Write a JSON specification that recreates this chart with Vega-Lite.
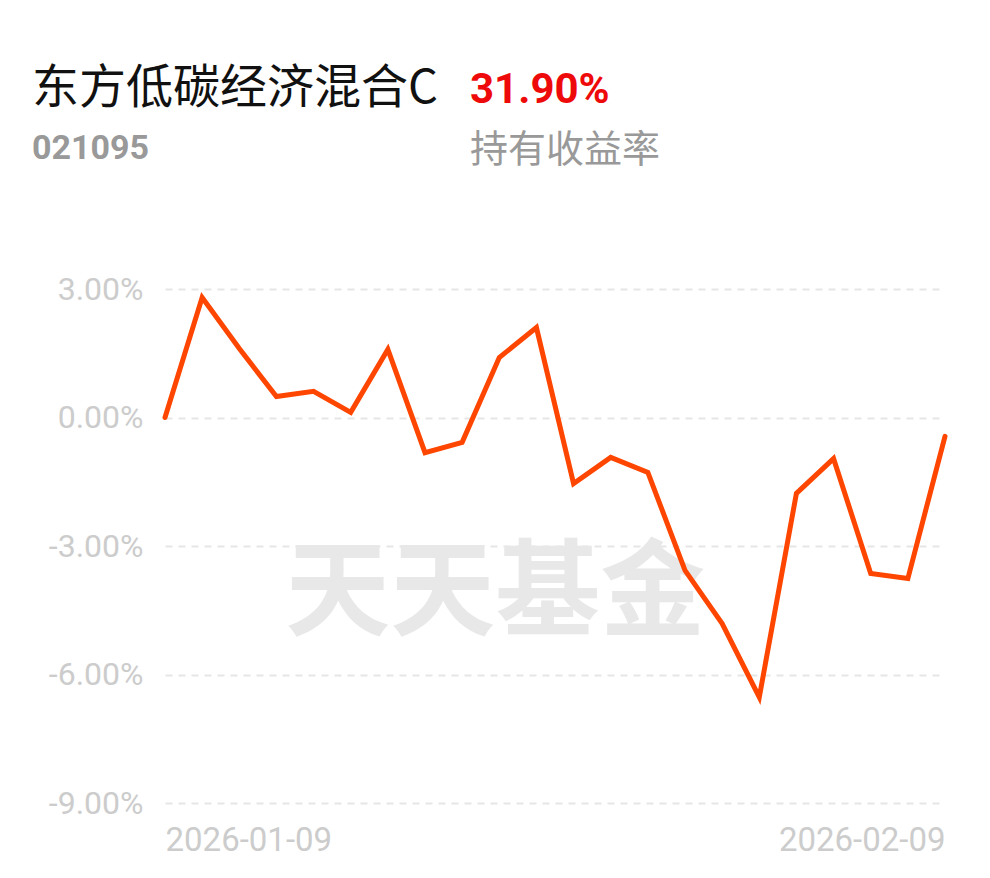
{
  "$schema": "https://vega.github.io/schema/vega-lite/v6.json",
  "width": 780,
  "height": 514,
  "autosize": {"type": "none"},
  "padding": {"left": 165, "top": 289, "right": 45, "bottom": 75},
  "background": "#ffffff",
  "config": {"view": {"stroke": null}},
  "data": {"values": [
    {"date": "2026-01-09", "ret": 0.00},
    {"date": "2026-01-12", "ret": 2.80},
    {"date": "2026-01-13", "ret": 1.61},
    {"date": "2026-01-14", "ret": 0.49},
    {"date": "2026-01-15", "ret": 0.61},
    {"date": "2026-01-16", "ret": 0.12},
    {"date": "2026-01-19", "ret": 1.59},
    {"date": "2026-01-20", "ret": -0.82},
    {"date": "2026-01-21", "ret": -0.58},
    {"date": "2026-01-22", "ret": 1.40},
    {"date": "2026-01-23", "ret": 2.10},
    {"date": "2026-01-26", "ret": -1.54},
    {"date": "2026-01-27", "ret": -0.93},
    {"date": "2026-01-28", "ret": -1.28},
    {"date": "2026-01-29", "ret": -3.57},
    {"date": "2026-01-30", "ret": -4.81},
    {"date": "2026-02-02", "ret": -6.53},
    {"date": "2026-02-03", "ret": -1.77},
    {"date": "2026-02-04", "ret": -0.96},
    {"date": "2026-02-05", "ret": -3.64},
    {"date": "2026-02-06", "ret": -3.76},
    {"date": "2026-02-09", "ret": -0.44}
  ]},
  "encoding": {
    "x": {
      "field": "date", "type": "ordinal", "sort": "ascending",
      "scale": {"type": "point", "padding": 0},
      "axis": {
        "title": null, "domain": false, "ticks": false, "grid": false,
        "labelAngle": 0, "labelOverlap": false,
        "labelExpr": "datum.value == '2026-01-09' || datum.value == '2026-02-09' ? datum.value : ''",
        "labelAlign": {"condition": {"test": "datum.value == '2026-01-09'", "value": "left"}, "value": "right"},
        "labelFont": "Roboto", "labelFontSize": 33, "labelColor": "#cccccc",
        "labelPadding": 21, "labelBaseline": "top"
      }
    },
    "y": {
      "field": "ret", "type": "quantitative",
      "scale": {"domain": [-9, 3], "nice": false, "zero": false},
      "axis": {
        "title": null, "domain": false, "ticks": false,
        "values": [-9, -6, -3, 0, 3],
        "labelExpr": "(datum.value < 0 ? '-' : '') + format(abs(datum.value), '.2f') + '%'",
        "labelFont": "Roboto", "labelFontSize": 32, "labelColor": "#cccccc",
        "labelPadding": 22,
        "grid": true, "gridColor": "#e6e6e6", "gridWidth": 2, "gridDash": [7, 6]
      }
    }
  },
  "layer": [
    {
      "data": {"values": [{"wm": "天天基金", "date": "2026-01-22", "ret": -4.15}]},
      "mark": {"type": "text", "align": "center", "baseline": "middle", "font": "Noto Sans CJK SC", "fontWeight": "bold", "fontSize": 105, "color": "#e8e8e8", "dx": -4},
      "encoding": {
        "text": {"field": "wm"}
      }
    },
    {
      "mark": {"type": "line", "color": "#ff4600", "strokeWidth": 5, "strokeJoin": "miter", "strokeCap": "round"}
    },
    {
      "data": {"values": [{"t": "东方低碳经济混合C"}]},
      "mark": {"type": "text", "align": "left", "baseline": "alphabetic", "font": "Noto Sans CJK SC", "fontSize": 47, "color": "#111111"},
      "encoding": {"x": {"value": -133}, "y": {"value": -186}, "text": {"field": "t"}}
    },
    {
      "data": {"values": [{"t": "31.90%"}]},
      "mark": {"type": "text", "align": "left", "baseline": "alphabetic", "font": "Roboto", "fontWeight": "bold", "fontSize": 42, "color": "#ee0a0a"},
      "encoding": {"x": {"value": 305}, "y": {"value": -186}, "text": {"field": "t"}}
    },
    {
      "data": {"values": [{"t": "021095"}]},
      "mark": {"type": "text", "align": "left", "baseline": "alphabetic", "font": "Roboto", "fontWeight": "bold", "fontSize": 34, "color": "#999999"},
      "encoding": {"x": {"value": -133}, "y": {"value": -130}, "text": {"field": "t"}}
    },
    {
      "data": {"values": [{"t": "持有收益率"}]},
      "mark": {"type": "text", "align": "left", "baseline": "alphabetic", "font": "Noto Sans CJK SC", "fontSize": 38, "color": "#999999"},
      "encoding": {"x": {"value": 305}, "y": {"value": -127}, "text": {"field": "t"}}
    }
  ]
}
